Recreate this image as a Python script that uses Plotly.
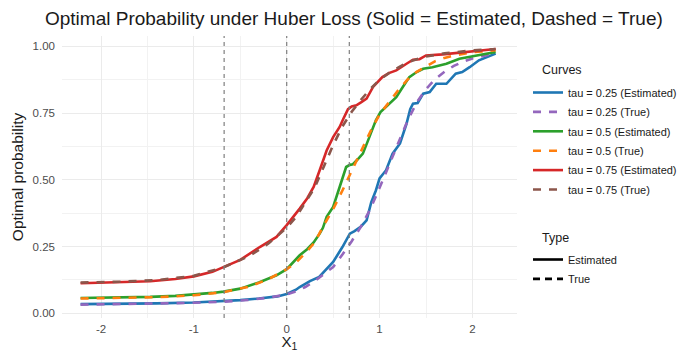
import plotly.graph_objects as go

# tau = 0.25
x_est_25 = [-2.22, -1.8, -1.4, -1.0, -0.68, -0.5, -0.3, -0.1, 0.0, 0.1, 0.14, 0.25, 0.35, 0.46, 0.5,
            0.6, 0.68, 0.73, 0.8, 0.86, 0.91, 0.96, 1.0, 1.07, 1.14, 1.22, 1.29, 1.33, 1.36, 1.41,
            1.47, 1.54, 1.61, 1.72, 1.82, 1.89, 1.97, 2.07, 2.15, 2.25]
y_est_25 = [0.034, 0.035, 0.037, 0.040, 0.044, 0.049, 0.055, 0.063, 0.072, 0.088, 0.098, 0.12, 0.136,
            0.18, 0.192, 0.248, 0.298, 0.308, 0.325, 0.348, 0.415, 0.46, 0.505, 0.536, 0.598, 0.636,
            0.71, 0.765, 0.785, 0.788, 0.823, 0.829, 0.86, 0.86, 0.898, 0.904, 0.922, 0.948, 0.96, 0.973]
x_true_25 = [-2.22, -1.8, -1.4, -1.0, -0.68, -0.4, -0.2, 0.0, 0.1, 0.2, 0.3, 0.4, 0.5, 0.6, 0.7, 0.8,
             0.9, 1.0, 1.1, 1.2, 1.3, 1.4, 1.5, 1.6, 1.7, 1.8, 1.9, 2.0, 2.1, 2.25]
y_true_25 = [0.032, 0.034, 0.036, 0.039, 0.043, 0.05, 0.058, 0.07, 0.082, 0.098, 0.12, 0.145, 0.173,
             0.22, 0.27, 0.325, 0.39, 0.47, 0.555, 0.64, 0.72, 0.79, 0.84, 0.878, 0.905, 0.927, 0.943,
             0.955, 0.964, 0.975]

# tau = 0.5
x_est_50 = [-2.22, -1.8, -1.47, -1.2, -1.0, -0.8, -0.68, -0.5, -0.3, -0.11, 0.0, 0.07, 0.14, 0.22,
            0.29, 0.355, 0.39, 0.43, 0.5, 0.57, 0.64, 0.68, 0.71, 0.76, 0.82, 0.89, 0.96, 1.01, 1.06,
            1.1, 1.18, 1.25, 1.32, 1.4, 1.47, 1.57, 1.65, 1.72, 1.86, 1.95, 2.04, 2.15, 2.25]
y_est_50 = [0.057, 0.058, 0.061, 0.065, 0.07, 0.076, 0.081, 0.092, 0.115, 0.142, 0.165, 0.19, 0.217,
            0.24, 0.265, 0.298, 0.32, 0.361, 0.398, 0.473, 0.548, 0.556, 0.558, 0.575, 0.598, 0.66,
            0.723, 0.754, 0.77, 0.785, 0.81, 0.848, 0.885, 0.904, 0.916, 0.922, 0.93, 0.935, 0.954,
            0.96, 0.966, 0.972, 0.979]
x_true_50 = [-2.22, -1.8, -1.4, -1.0, -0.68, -0.4, -0.2, 0.0, 0.1, 0.2, 0.3, 0.4, 0.5, 0.6, 0.7, 0.8,
             0.9, 1.0, 1.1, 1.2, 1.3, 1.4, 1.5, 1.6, 1.7, 1.8, 2.0, 2.25]
y_true_50 = [0.055, 0.057, 0.06, 0.067, 0.079, 0.1, 0.127, 0.165, 0.19, 0.225, 0.265, 0.33, 0.39, 0.46,
             0.535, 0.605, 0.68, 0.745, 0.79, 0.835, 0.875, 0.905, 0.925, 0.945, 0.957, 0.966, 0.978,
             0.986]

# tau = 0.75
x_est_75 = [-2.22, -1.8, -1.47, -1.2, -1.0, -0.8, -0.68, -0.5, -0.29, -0.11, 0.0, 0.07, 0.14, 0.22,
            0.29, 0.355, 0.43, 0.5, 0.57, 0.61, 0.66, 0.7, 0.75, 0.8, 0.86, 0.93, 1.03, 1.1, 1.18,
            1.29, 1.36, 1.43, 1.5, 1.68, 1.85, 2.0, 2.25]
y_est_75 = [0.112, 0.115, 0.12, 0.128, 0.138, 0.155, 0.172, 0.2, 0.248, 0.286, 0.33, 0.36, 0.392, 0.43,
            0.473, 0.536, 0.61, 0.66, 0.698, 0.729, 0.765, 0.775, 0.779, 0.79, 0.804, 0.848, 0.885,
            0.9, 0.91, 0.935, 0.95, 0.952, 0.966, 0.97, 0.976, 0.982, 0.99]
x_true_75 = [-2.22, -1.8, -1.4, -1.0, -0.68, -0.4, -0.2, 0.0, 0.1, 0.2, 0.3, 0.4, 0.5, 0.6, 0.7, 0.8,
             0.9, 1.0, 1.1, 1.2, 1.3, 1.4, 1.5, 1.7, 2.0, 2.25]
y_true_75 = [0.115, 0.118, 0.124, 0.14, 0.172, 0.215, 0.26, 0.32, 0.36, 0.415, 0.47, 0.55, 0.63, 0.7,
             0.755, 0.8, 0.84, 0.875, 0.9, 0.92, 0.94, 0.952, 0.962, 0.974, 0.985, 0.99]

# reference quantiles marked with vertical dashed lines
vline_x = [-0.674, 0.0, 0.674]

series = [
    ("tau = 0.25 (Estimated)", x_est_25, y_est_25, "#1f77b4", "solid"),
    ("tau = 0.25 (True)", x_true_25, y_true_25, "#9467bd", "dash"),
    ("tau = 0.5 (Estimated)", x_est_50, y_est_50, "#2ca02c", "solid"),
    ("tau = 0.5 (True)", x_true_50, y_true_50, "#ff7f0e", "dash"),
    ("tau = 0.75 (Estimated)", x_est_75, y_est_75, "#d62728", "solid"),
    ("tau = 0.75 (True)", x_true_75, y_true_75, "#8c564b", "dash"),
]

FONT = "Liberation Sans, Arial, Helvetica, sans-serif"
DASH = "8px,8px"

fig = go.Figure()
for i, (name, xs, ys, color, style) in enumerate(series):
    fig.add_trace(go.Scatter(
        x=xs, y=ys, mode="lines", name=name, legendgroup=f"g{i}",
        line=dict(color=color, width=2.6, dash=DASH if style == "dash" else "solid"),
        legend="legend",
    ))

# line-type key
for name, style in [("Estimated", "solid"), ("True", "dash")]:
    fig.add_trace(go.Scatter(
        x=[None], y=[None], mode="lines", name=name, legendgroup=f"t{name}",
        line=dict(color="black", width=2.6, dash="7px,5px" if style == "dash" else "solid"),
        legend="legend2",
    ))

for xv in vline_x:
    fig.add_shape(type="line", xref="x", yref="paper", x0=xv, x1=xv, y0=0, y1=1,
                  line=dict(color="#7f7f7f", width=1.2, dash="4px,4px"), layer="above")

# legend headings
for text, ypx in [("Curves", 70), ("Type", 238)]:
    fig.add_annotation(text=text, xref="paper", yref="paper", showarrow=False,
                       x=(540 - 62) / 455, xanchor="left",
                       y=1 - (ypx - 36) / 282, yanchor="middle",
                       font=dict(size=12.5, color="#1a1a1a"))

grid = "#ebebeb"
fig.update_layout(
    width=680, height=352,
    margin=dict(l=62, r=163, t=36, b=34),
    paper_bgcolor="white", plot_bgcolor="white",
    font=dict(family=FONT, color="#1a1a1a"),
    title=dict(
        text="Optimal Probability under Huber Loss (Solid = Estimated, Dashed = True)",
        x=45 / 680, xanchor="left", xref="container",
        y=1 - 18 / 352, yanchor="middle", yref="container",
        font=dict(size=19, color="#1a1a1a"),
    ),
    xaxis=dict(
        range=[-2.42, 2.48], tickvals=[-2, -1, 0, 1, 2], ticktext=["-2", "-1", "0", "1", "2"],
        showgrid=True, gridcolor=grid, gridwidth=1.1, zeroline=False, showline=False,
        minor=dict(tickvals=[-1.5, -0.5, 0.5, 1.5], showgrid=True, gridcolor="#f2f2f2", gridwidth=0.6),
        tickfont=dict(size=11.5, color="#4d4d4d"), ticks="", ticklabelstandoff=2,
        automargin=False,
        title=dict(text="X<sub>1</sub>", font=dict(size=15, color="#1a1a1a"), standoff=5),
    ),
    yaxis=dict(
        range=[-0.018, 1.039], tickvals=[0, 0.25, 0.5, 0.75, 1.0],
        ticktext=["0.00", "0.25", "0.50", "0.75", "1.00"],
        showgrid=True, gridcolor=grid, gridwidth=1.1, zeroline=False, showline=False,
        minor=dict(tickvals=[0.125, 0.375, 0.625, 0.875], showgrid=True, gridcolor="#f2f2f2", gridwidth=0.6),
        tickfont=dict(size=11.5, color="#4d4d4d"), ticks="", ticklabelstandoff=6,
        automargin=False,
        title=dict(text="Optimal probability", font=dict(size=15.5, color="#1a1a1a"), standoff=5),
    ),
    legend=dict(
        xref="container", yref="container", x=528 / 680, y=1 - 78 / 352,
        xanchor="left", yanchor="top", font=dict(size=11, color="#1a1a1a"),
        bgcolor="rgba(0,0,0,0)", tracegroupgap=0.4, itemwidth=30,
    ),
    legend2=dict(
        xref="container", yref="container", x=528 / 680, y=1 - 245 / 352,
        xanchor="left", yanchor="top", font=dict(size=11, color="#1a1a1a"),
        bgcolor="rgba(0,0,0,0)", tracegroupgap=0.4, itemwidth=30,
    ),
)

fig.write_html("out.html")
